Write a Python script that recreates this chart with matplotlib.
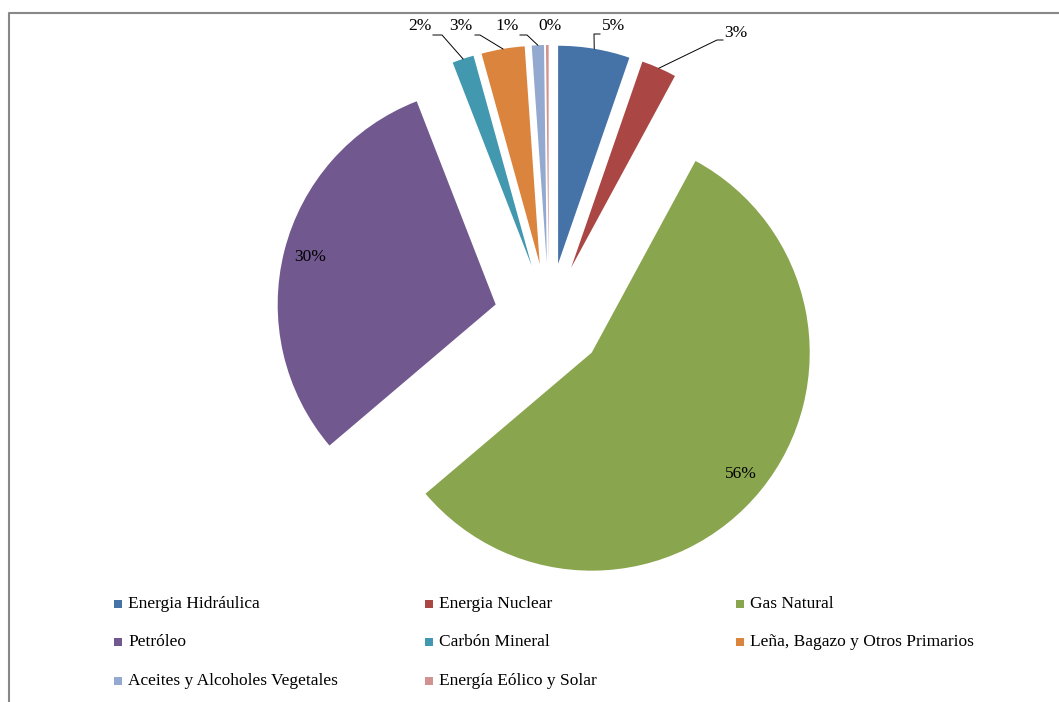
import matplotlib.pyplot as plt
from matplotlib.patches import Rectangle
import numpy as np

plt.rcParams['font.family'] = ['Liberation Serif', 'DejaVu Serif']

# primary energy shares (%)
sources = ['Energia Hidráulica', 'Energia Nuclear', 'Gas Natural', 'Petróleo',
           'Carbón Mineral', 'Leña, Bagazo y Otros Primarios',
           'Aceites y Alcoholes Vegetales', 'Energía Eólico y Solar']
shares = [5.3, 2.6, 55.9, 30.3, 1.6, 3.2, 0.9, 0.2]
colors = ['#4572A7', '#AA4643', '#89A54E', '#71588F',
          '#4198AF', '#DB843D', '#93A9CF', '#D19392']

W, H = 1059, 702
fig = plt.figure(figsize=(W / 100, H / 100), dpi=100)
ax = fig.add_axes([0, 0, 1, 1])

wedges, _ = ax.pie(shares, colors=colors, startangle=90, counterclock=False,
                   radius=218, center=(549, H - 318), explode=[55] * len(shares),
                   wedgeprops=dict(linewidth=0))
ax.set_xlim(0, W)
ax.set_ylim(0, H)
ax.set_aspect('equal')
ax.axis('off')

fs = 12.5
# outside labels: (text x, text y, elbow x, elbow y, tick end x)
outside = {
    0: (614, H - 26, 594, H - 34, 600),
    1: (736, H - 33, 717, H - 40, 723),
    4: (420, H - 26, 442, H - 35, 433),
    5: (461, H - 26, 480, H - 35, 475),
    6: (507, H - 26, 527, H - 35, 520),
    7: (550, H - 26, None, None, None),
}

for i, w in enumerate(wedges):
    mid = np.deg2rad((w.theta1 + w.theta2) / 2)
    cx, cy = w.center
    txt = f'{shares[i]:.0f}%'
    if i in outside:
        tx, ty, ex, ey, hx = outside[i]
        ax.text(tx, ty, txt, fontsize=fs, ha='center', va='center')
        if ex is not None:
            axp = cx + w.r * np.cos(mid)
            ayp = cy + w.r * np.sin(mid)
            ax.plot([axp, ex, hx], [ayp, ey, ey], color='black', lw=0.7)
    else:
        ax.text(cx + 0.88 * w.r * np.cos(mid), cy + 0.88 * w.r * np.sin(mid), txt,
                fontsize=fs, ha='center', va='center')

# legend, three columns filled row by row
col_x = [118, 429, 740]
row_y = [604, 642, 681]
for i, (name, c) in enumerate(zip(sources, colors)):
    x = col_x[i % 3]
    y = H - row_y[i // 3]
    ax.add_patch(Rectangle((x - 4, y - 4), 8, 8, color=c, lw=0))
    ax.text(x + 10, y, name, fontsize=fs, va='center', ha='left')

# outer frame
ax.plot([9, 9, W], [0, H - 13, H - 13], color='#888888', lw=1.5, clip_on=False)

fig.savefig('out.png', dpi=100)
